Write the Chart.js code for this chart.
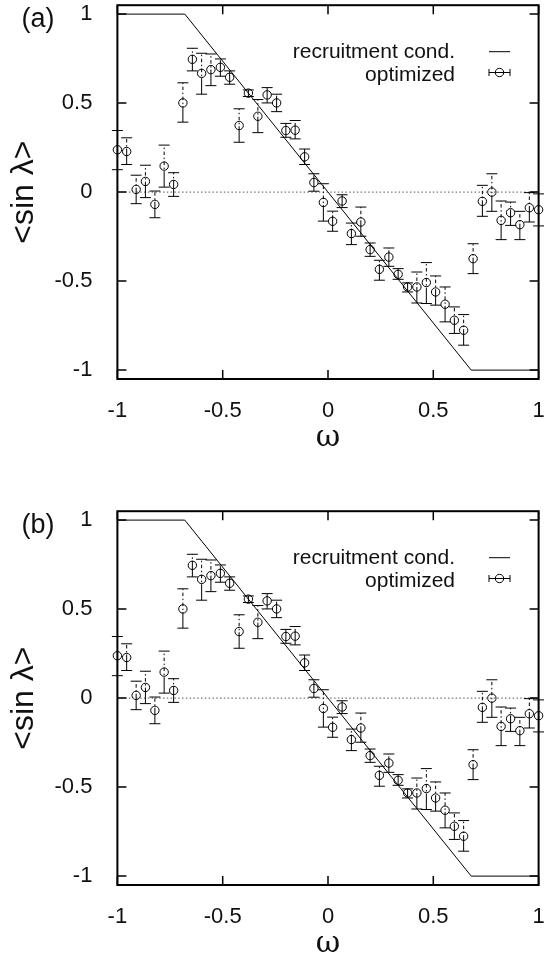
<!DOCTYPE html>
<html>
<head>
<meta charset="utf-8">
<script src="https://cdn.jsdelivr.net/npm/chart.js@4.4.1/dist/chart.umd.min.js"></script>
<style>
  html, body { margin: 0; padding: 0; background: #fff; overflow: hidden; }
  .panel { position: absolute; left: 0; width: 544px; height: 470px; }
</style>
</head>
<body>
<div class="panel" style="top:0"><canvas id="chart_a" width="544" height="470"></canvas></div>
<div class="panel" style="top:506px"><canvas id="chart_b" width="544" height="470"></canvas></div>
<script>
  // frequency grid and mean <sin lambda> with error bar ends
  const omega = [-1, -0.956, -0.911, -0.867, -0.822, -0.778, -0.733, -0.689, -0.644, -0.6,
    -0.556, -0.511, -0.467, -0.422, -0.378, -0.333, -0.289, -0.244, -0.2, -0.156,
    -0.111, -0.067, -0.022, 0.022, 0.067, 0.111, 0.156, 0.2, 0.244, 0.289,
    0.333, 0.378, 0.422, 0.467, 0.511, 0.556, 0.6, 0.644, 0.689, 0.733,
    0.778, 0.822, 0.867, 0.911, 0.956, 1];
  const sinMean = [0.238, 0.228, 0.015, 0.06, -0.069, 0.146, 0.043, 0.501, 0.746, 0.667,
    0.688, 0.701, 0.645, 0.374, 0.556, 0.426, 0.546, 0.501, 0.346, 0.348,
    0.198, 0.054, -0.058, -0.164, -0.05, -0.233, -0.168, -0.323, -0.434, -0.365,
    -0.462, -0.533, -0.533, -0.508, -0.561, -0.63, -0.72, -0.776, -0.374, -0.052,
    0.0, -0.159, -0.116, -0.183, -0.088, -0.099];
  const sinHigh = [0.346, 0.305, 0.095, 0.151, 0.006, 0.264, 0.109, 0.614, 0.808, 0.78,
    0.776, 0.748, 0.681, 0.468, 0.574, 0.52, 0.587, 0.55, 0.386, 0.402,
    0.242, 0.103, 0.047, -0.107, -0.015, -0.174, -0.084, -0.286, -0.383, -0.314,
    -0.43, -0.51, -0.449, -0.396, -0.471, -0.533, -0.645, -0.688, -0.29, 0.038,
    0.103, -0.05, -0.056, -0.108, -0.003, -0.01];
  const sinLow = [0.126, 0.155, -0.065, -0.031, -0.144, 0.028, -0.024, 0.393, 0.681, 0.55,
    0.598, 0.651, 0.606, 0.28, 0.537, 0.334, 0.501, 0.452, 0.308, 0.299,
    0.155, 0.005, -0.163, -0.22, -0.087, -0.295, -0.248, -0.361, -0.495, -0.417,
    -0.49, -0.561, -0.623, -0.626, -0.635, -0.729, -0.794, -0.86, -0.458, -0.136,
    -0.108, -0.267, -0.187, -0.267, -0.168, -0.19];

  // recruitment condition: clipped straight line
  const recruitX = [-1, -0.68, 0.68, 1];
  const recruitY = [1, 1, -1, -1];
  const zeroX = [-1, 1];

  const xTicks = [-1, -0.5, 0, 0.5, 1];
  const yTicks = [-1, -0.5, 0, 0.5, 1];

  const SANS = "'Liberation Sans', Arial, sans-serif";
  const INK = '#111';

  // vertical error bars: long first dash from the bottom, dash-dot above it
  const errorBars = {
    id: 'errorBars',
    afterDatasetsDraw(chart) {
      const {ctx, scales: {x, y}} = chart;
      ctx.save();
      ctx.strokeStyle = '#000';
      ctx.lineWidth = 1;
      omega.forEach((w, i) => {
        const px = x.getPixelForValue(w);
        const top = y.getPixelForValue(sinHigh[i]);
        const bot = y.getPixelForValue(sinLow[i]);
        ctx.setLineDash([]);
        ctx.beginPath();
        ctx.moveTo(px - 5.5, top); ctx.lineTo(px + 5.5, top);
        ctx.moveTo(px - 5.5, bot); ctx.lineTo(px + 5.5, bot);
        const split = Math.max(top, bot - 16);
        ctx.moveTo(px, bot); ctx.lineTo(px, split);
        ctx.stroke();
        if (split > top) {
          ctx.setLineDash([1.5, 2.5, 3.5, 2.5]);
          ctx.lineDashOffset = 8;
          ctx.beginPath();
          ctx.moveTo(px, split); ctx.lineTo(px, top);
          ctx.stroke();
        }
      });
      ctx.restore();
    }
  };

  // border with inward mirrored ticks, panel tag and key
  const frame = {
    id: 'frame',
    afterDraw(chart, args, opts) {
      const {ctx, chartArea: a, scales: {x, y}} = chart;
      ctx.save();
      ctx.strokeStyle = '#000';
      ctx.lineWidth = 1.5;
      ctx.beginPath();
      xTicks.forEach(v => {
        const px = x.getPixelForValue(v);
        ctx.moveTo(px, a.bottom); ctx.lineTo(px, a.bottom - 9);
        ctx.moveTo(px, a.top); ctx.lineTo(px, a.top + 9);
      });
      yTicks.forEach(v => {
        const py = y.getPixelForValue(v);
        ctx.moveTo(a.left, py); ctx.lineTo(a.left + 9, py);
        ctx.moveTo(a.right, py); ctx.lineTo(a.right - 9, py);
      });
      ctx.stroke();
      ctx.lineWidth = 2;
      ctx.strokeRect(a.left, a.top, a.width, a.height);

      ctx.fillStyle = INK;
      ctx.font = '27px ' + SANS;
      ctx.textAlign = 'center';
      ctx.textBaseline = 'middle';
      ctx.fillText(opts.tag, 38, 20);

      ctx.font = '21px ' + SANS;
      ctx.textAlign = 'right';
      ctx.textBaseline = 'alphabetic';
      ctx.fillText('recruitment cond.', 455, 57.5);
      ctx.fillText('optimized', 455, 80.5);

      ctx.lineWidth = 1;
      ctx.beginPath();
      ctx.moveTo(489, 51.7); ctx.lineTo(510, 51.7);
      const ky = 72.5;
      ctx.moveTo(489, ky); ctx.lineTo(510, ky);
      ctx.moveTo(489, ky - 3.5); ctx.lineTo(489, ky + 3.5);
      ctx.moveTo(510, ky - 3.5); ctx.lineTo(510, ky + 3.5);
      ctx.stroke();
      ctx.beginPath();
      ctx.arc(499.5, ky, 4.2, 0, 2 * Math.PI);
      ctx.stroke();
      ctx.restore();
    }
  };

  function makeChart(id, tag) {
    return new Chart(document.getElementById(id), {
      type: 'scatter',
      data: {
        datasets: [
          {
            label: 'zero',
            data: zeroX.map(v => ({x: v, y: 0})),
            showLine: true,
            borderColor: '#777',
            borderWidth: 1.2,
            borderDash: [1.5, 2.3],
            pointRadius: 0
          },
          {
            label: 'recruitment cond.',
            data: recruitX.map((v, i) => ({x: v, y: recruitY[i]})),
            showLine: true,
            borderColor: '#000',
            borderWidth: 1,
            pointRadius: 0
          },
          {
            label: 'optimized',
            data: omega.map((v, i) => ({x: v, y: sinMean[i]})),
            pointRadius: 4.2,
            pointBorderWidth: 1,
            pointBorderColor: '#000',
            pointBackgroundColor: 'rgba(0,0,0,0)',
            clip: false
          }
        ]
      },
      options: {
        responsive: false,
        animation: false,
        events: [],
        layout: {padding: {top: 4.4, right: 5.4, left: 0, bottom: 0}},
        plugins: {
          legend: {display: false},
          tooltip: {enabled: false},
          frame: {tag: tag}
        },
        scales: {
          x: {
            type: 'linear',
            min: -1,
            max: 1,
            grid: {display: false},
            border: {display: false},
            afterBuildTicks: s => { s.ticks = xTicks.map(v => ({value: v})); },
            ticks: {
              color: INK,
              font: {family: SANS, size: 22},
              padding: 10.8,
              maxRotation: 0,
              callback: v => String(v)
            },
            title: {
              display: true,
              text: 'ω',
              color: INK,
              font: {family: "'DejaVu Serif', serif", size: 30},
              padding: {top: 0, bottom: 14}
            },
            afterFit: s => { s.height = 91; s.paddingLeft = 0; s.paddingRight = 0; }
          },
          y: {
            type: 'linear',
            min: -1.05,
            max: 1.05,
            grid: {display: false},
            border: {display: false},
            afterBuildTicks: s => { s.ticks = yTicks.map(v => ({value: v})); },
            ticks: {
              color: INK,
              font: {family: SANS, size: 22},
              padding: 17,
              callback: v => String(v)
            },
            title: {
              display: true,
              text: '<sin λ>',
              color: INK,
              font: {family: SANS, size: 32},
              padding: {top: 5, bottom: 0}
            },
            afterFit: s => { s.width = 117.4; s.paddingTop = 0; s.paddingBottom = 0; }
          }
        }
      },
      plugins: [errorBars, frame]
    });
  }

  makeChart('chart_a', '(a)');
  makeChart('chart_b', '(b)');
</script>
</body>
</html>
